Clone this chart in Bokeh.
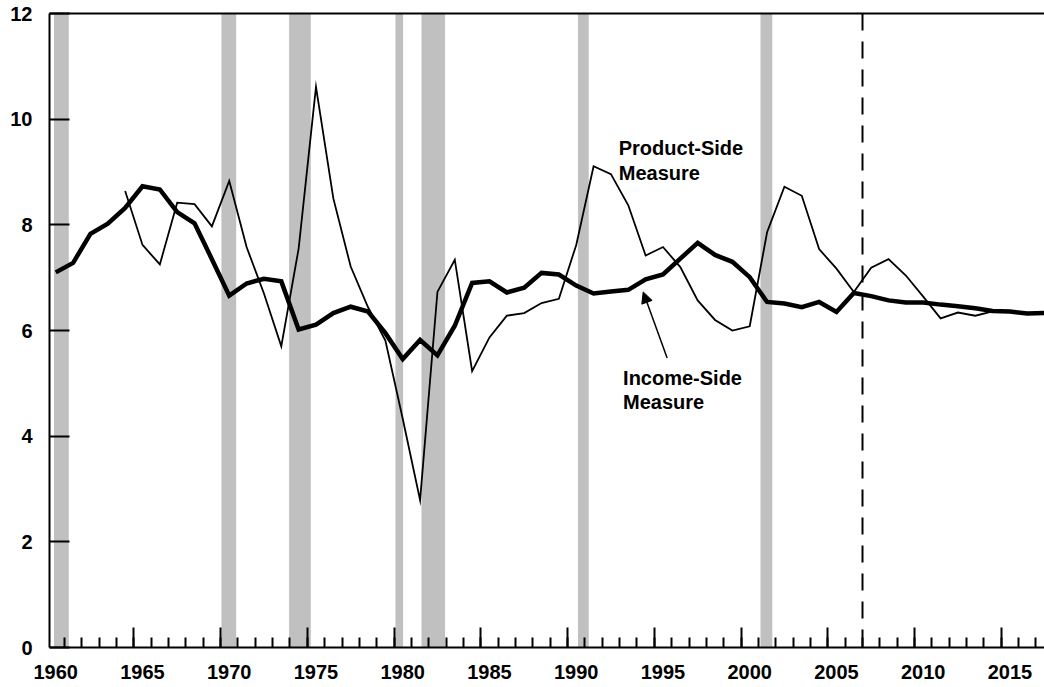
from bokeh.plotting import figure
from bokeh.models import (FixedTicker, LinearAxis, Range1d, Span, Label, Arrow,
                          NormalHead, ColumnDataSource, CustomLabelingPolicy)
from bokeh.embed import file_html
from bokeh.resources import INLINE

# ---------------- data ----------------
income_years = list(range(1960, 2018))
income_side = [7.10, 7.28, 7.83, 8.02, 8.32, 8.73, 8.67, 8.24, 8.03, 7.35,
               6.66, 6.89, 6.98, 6.93, 6.02, 6.11, 6.33, 6.45, 6.36, 5.95,
               5.46, 5.82, 5.53, 6.09, 6.90, 6.93, 6.72, 6.81, 7.09, 7.06,
               6.85, 6.70, 6.74, 6.77, 6.97, 7.06, 7.36, 7.66, 7.43, 7.30,
               7.01, 6.54, 6.51, 6.44, 6.54, 6.35, 6.71, 6.65, 6.57, 6.53,
               6.53, 6.49, 6.46, 6.42, 6.37, 6.36, 6.32, 6.33]

product_years = list(range(1964, 2018))
product_side = [8.64, 7.62, 7.25, 8.42, 8.39, 7.97, 8.83, 7.58, 6.70, 5.70,
                7.55, 10.61, 8.50, 7.21, 6.44, 5.81, 4.33, 2.79, 6.73, 7.34,
                5.23, 5.87, 6.28, 6.33, 6.52, 6.60, 7.62, 9.11, 8.96, 8.37,
                7.42, 7.58, 7.20, 6.57, 6.20, 6.00, 6.08, 7.86, 8.72, 8.55,
                7.54, 7.17, 6.73, 7.19, 7.35, 7.04, 6.64, 6.23, 6.34, 6.28,
                6.36, 6.35, 6.32, 6.33]

recession_start = [1960.40, 1970.05, 1973.95, 1980.08, 1981.58, 1990.60, 2001.12]
recession_end = [1961.25, 1970.90, 1975.20, 1980.52, 1982.94, 1991.22, 2001.80]

projection_start = 2007.0

x_major_ticks = list(range(1960, 2016, 5))
x_minor_ticks = list(range(1960, 2018))
x_tick_labels = ["1960", "1965", "1970", "1975", "1980", "1985", "1990",
                 "1995", "2000", "2005", "2010", "2015"]
y_ticks = [0, 2, 4, 6, 8, 10, 12]

FONT = "Liberation Sans"
AXIS_FONT_SIZE = "20px"

# ---------------- figure ----------------
p = figure(width=1044, height=687, output_backend="svg", toolbar_location=None,
           x_range=Range1d(1960.14, 2017.49), y_range=Range1d(0, 12),
           min_border_left=49, min_border_right=0, min_border_top=13,
           min_border_bottom=40, x_axis_type=None, y_axis_type=None)
p.grid.visible = False
p.outline_line_color = None
p.background_fill_color = "white"
p.border_fill_color = "white"

# recession shading
rec = ColumnDataSource(dict(left=recession_start, right=recession_end))
p.quad(left="left", right="right", bottom=0, top=12, source=rec,
       fill_color="#c0c0c0", line_color=None)

# projection marker
p.add_layout(Span(location=projection_start, dimension="height",
                  line_color="black", line_width=2, line_dash="17 11"))

# series (data points at mid-year)
inc_src = ColumnDataSource(dict(x=[y + 0.5 for y in income_years], y=income_side))
prod_src = ColumnDataSource(dict(x=[y + 0.5 for y in product_years], y=product_side))
p.line("x", "y", source=prod_src, line_color="black", line_width=1.8,
       line_join="miter")
p.line("x", "y", source=inc_src, line_color="black", line_width=4.5,
       line_join="miter")

no_labels = CustomLabelingPolicy(code="""
for (const i of indices) { indices.unset(i) }
return indices
""")

# bottom: tick marks (year boundaries), no labels
xt = LinearAxis(ticker=FixedTicker(ticks=x_major_ticks, minor_ticks=x_minor_ticks))
xt.axis_line_width = 2
xt.axis_line_color = "black"
xt.major_tick_in = 20
xt.major_tick_out = 0
xt.minor_tick_in = 10
xt.minor_tick_out = 0
xt.major_tick_line_width = 2
xt.minor_tick_line_width = 2
xt.major_tick_line_color = "black"
xt.minor_tick_line_color = "black"
xt.major_label_text_font_size = "1px"
xt.major_label_standoff = 0
xt.major_label_policy = no_labels
p.add_layout(xt, "below")

# bottom: labels centred on mid-year
label_pos = [t + 0.5 for t in x_major_ticks]
xl = LinearAxis(ticker=FixedTicker(ticks=label_pos, minor_ticks=[]))
xl.major_label_overrides = {pos: lab for pos, lab in zip(label_pos, x_tick_labels)}
xl.axis_line_color = None
xl.major_tick_line_color = None
xl.minor_tick_line_color = None
xl.major_tick_in = 0
xl.major_tick_out = 0
xl.major_label_standoff = 13
xl.major_label_text_font = FONT
xl.major_label_text_font_style = "bold"
xl.major_label_text_font_size = AXIS_FONT_SIZE
xl.major_label_text_color = "black"
p.add_layout(xl, "below")

# left axis
ya = LinearAxis(ticker=FixedTicker(ticks=y_ticks, minor_ticks=[]))
ya.axis_line_width = 2
ya.axis_line_color = "black"
ya.major_tick_in = 20
ya.major_tick_out = 0
ya.major_tick_line_width = 2
ya.major_tick_line_color = "black"
ya.minor_tick_line_color = None
ya.major_label_standoff = 17
ya.major_label_text_font = FONT
ya.major_label_text_font_style = "bold"
ya.major_label_text_font_size = AXIS_FONT_SIZE
ya.major_label_text_color = "black"
p.add_layout(ya, "left")

# top line
ta = LinearAxis(ticker=FixedTicker(ticks=[], minor_ticks=[]))
ta.axis_line_width = 2
ta.axis_line_color = "black"
ta.major_tick_line_color = None
ta.minor_tick_line_color = None
ta.major_label_text_font_size = "1px"
ta.major_label_standoff = 0
ta.major_tick_out = 0
ta.major_tick_in = 0
p.add_layout(ta, "above")

# ---------------- annotations ----------------
def add_label(x, y, text):
    p.add_layout(Label(x=x, y=y, text=text, text_font=FONT,
                       text_font_style="bold", text_font_size="20px",
                       text_color="black", text_baseline="alphabetic",
                       text_align="left"))

add_label(1992.95, 9.46, "Product-Side")
add_label(1992.95, 8.98, "Measure")
add_label(1993.2, 5.11, "Income-Side")
add_label(1993.2, 4.65, "Measure")

p.add_layout(Arrow(end=NormalHead(size=11, fill_color="black", line_color="black",
                                  line_width=1),
                   x_start=1995.74, y_start=5.48, x_end=1994.36, y_end=6.73,
                   line_color="black", line_width=1.5))

open("out.html", "w").write(file_html(p, INLINE))
